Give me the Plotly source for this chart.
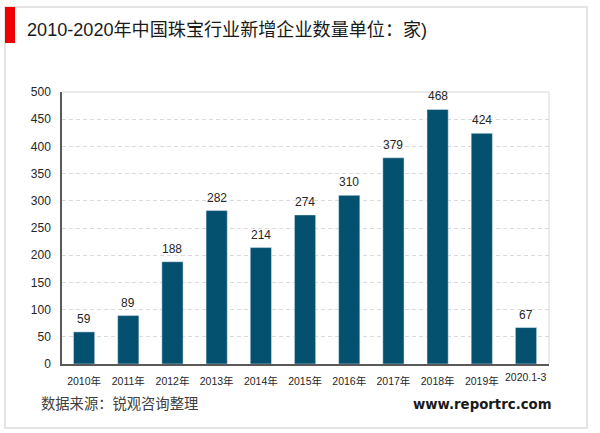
import plotly.graph_objects as go

categories = ["2010年", "2011年", "2012年", "2013年", "2014年", "2015年", "2016年", "2017年", "2018年", "2019年", "2020.1-3"]
values = [59, 89, 188, 282, 214, 274, 310, 379, 468, 424, 67]
y_ticks = [0, 50, 100, 150, 200, 250, 300, 350, 400, 450, 500]
tick_labels = categories[:-1] + [""]

font_family = "Liberation Sans, Arial, Noto Sans CJK SC, sans-serif"
W = 600
H = 433

fig = go.Figure()
fig.add_trace(go.Bar(
    x=categories,
    y=values,
    width=0.48,
    marker_color="#03506f",
))

fig.update_layout(
    width=W,
    height=H,
    autosize=False,
    showlegend=False,
    paper_bgcolor="white",
    plot_bgcolor="white",
    font=dict(family=font_family, color="#262626"),
    margin=dict(l=62, r=51, t=92, b=69),
    xaxis=dict(
        tickmode="array",
        tickvals=categories,
        ticktext=tick_labels,
        tickfont=dict(size=10.5, color="#262626"),
        ticks="",
        ticklabelstandoff=7,
        showgrid=False,
        showline=True,
        linecolor="#595959",
        linewidth=1.5,
    ),
    yaxis=dict(
        range=[0, 500],
        tickvals=y_ticks,
        tickfont=dict(size=12, color="#262626"),
        ticks="",
        ticklabelstandoff=7,
        showgrid=True,
        gridcolor="#d9d9d9",
        griddash="4px,3px",
        gridwidth=1,
        zeroline=False,
        showline=True,
        linecolor="#595959",
        linewidth=1.5,
    ),
)

# outer panel, red marker and the light edges of the plot
panel = dict(xref="x domain", yref="y domain", layer="below")
fig.add_shape(type="rect", x0=(5 - 62) / 487, x1=(587 - 62) / 487, y0=(364 - 428) / 272, y1=(364 - 7) / 272,
              line=dict(color="#e4e4e4", width=2), **panel)
fig.add_shape(type="rect", x0=(5 - 62) / 487, x1=(15 - 62) / 487, y0=(364 - 43) / 272, y1=(364 - 7) / 272,
              fillcolor="#f00000", line_width=0, xref="x domain", yref="y domain")
fig.add_shape(type="line", x0=0, x1=1, y0=1, y1=1, line=dict(color="#e4e4e4", width=1.5), **panel)
fig.add_shape(type="line", x0=1, x1=1, y0=0, y1=1, line=dict(color="#e4e4e4", width=1.5), **panel)

for cat, val in zip(categories, values):
    fig.add_annotation(text=str(val), x=cat, y=val, yanchor="bottom", yshift=4, showarrow=False,
                       font=dict(size=12, color="#262626"))

fig.add_annotation(text="2010-2020年中国珠宝行业新增企业数量单位：家)", xref="paper", yref="paper",
                   x=(25 - 62) / 487, y=(364 - 30) / 272, xanchor="left", yanchor="middle", showarrow=False,
                   font=dict(size=18.1, color="#1a1a1a"))
fig.add_annotation(text="2020.1-3", x=categories[-1], yref="paper", y=-13 / 272,
                   xanchor="center", yanchor="middle", showarrow=False,
                   font=dict(size=10.5, color="#262626"))
fig.add_annotation(text="数据来源：锐观咨询整理", xref="paper", yref="paper",
                   x=(39 - 62) / 487, y=(364 - 404) / 272, xanchor="left", yanchor="middle", showarrow=False,
                   font=dict(size=14.3, color="#404040"))
fig.add_annotation(text="<b>www.reportrc.com</b>", xref="paper", yref="paper",
                   x=(554 - 62) / 487, y=(364 - 404) / 272, xanchor="right", yanchor="middle", showarrow=False,
                   font=dict(size=13.3, color="#1a1a1a", family="DejaVu Sans, sans-serif"))

fig.write_html("out.html", config={"displayModeBar": False}, post_script="document.body.style.margin='0';")
